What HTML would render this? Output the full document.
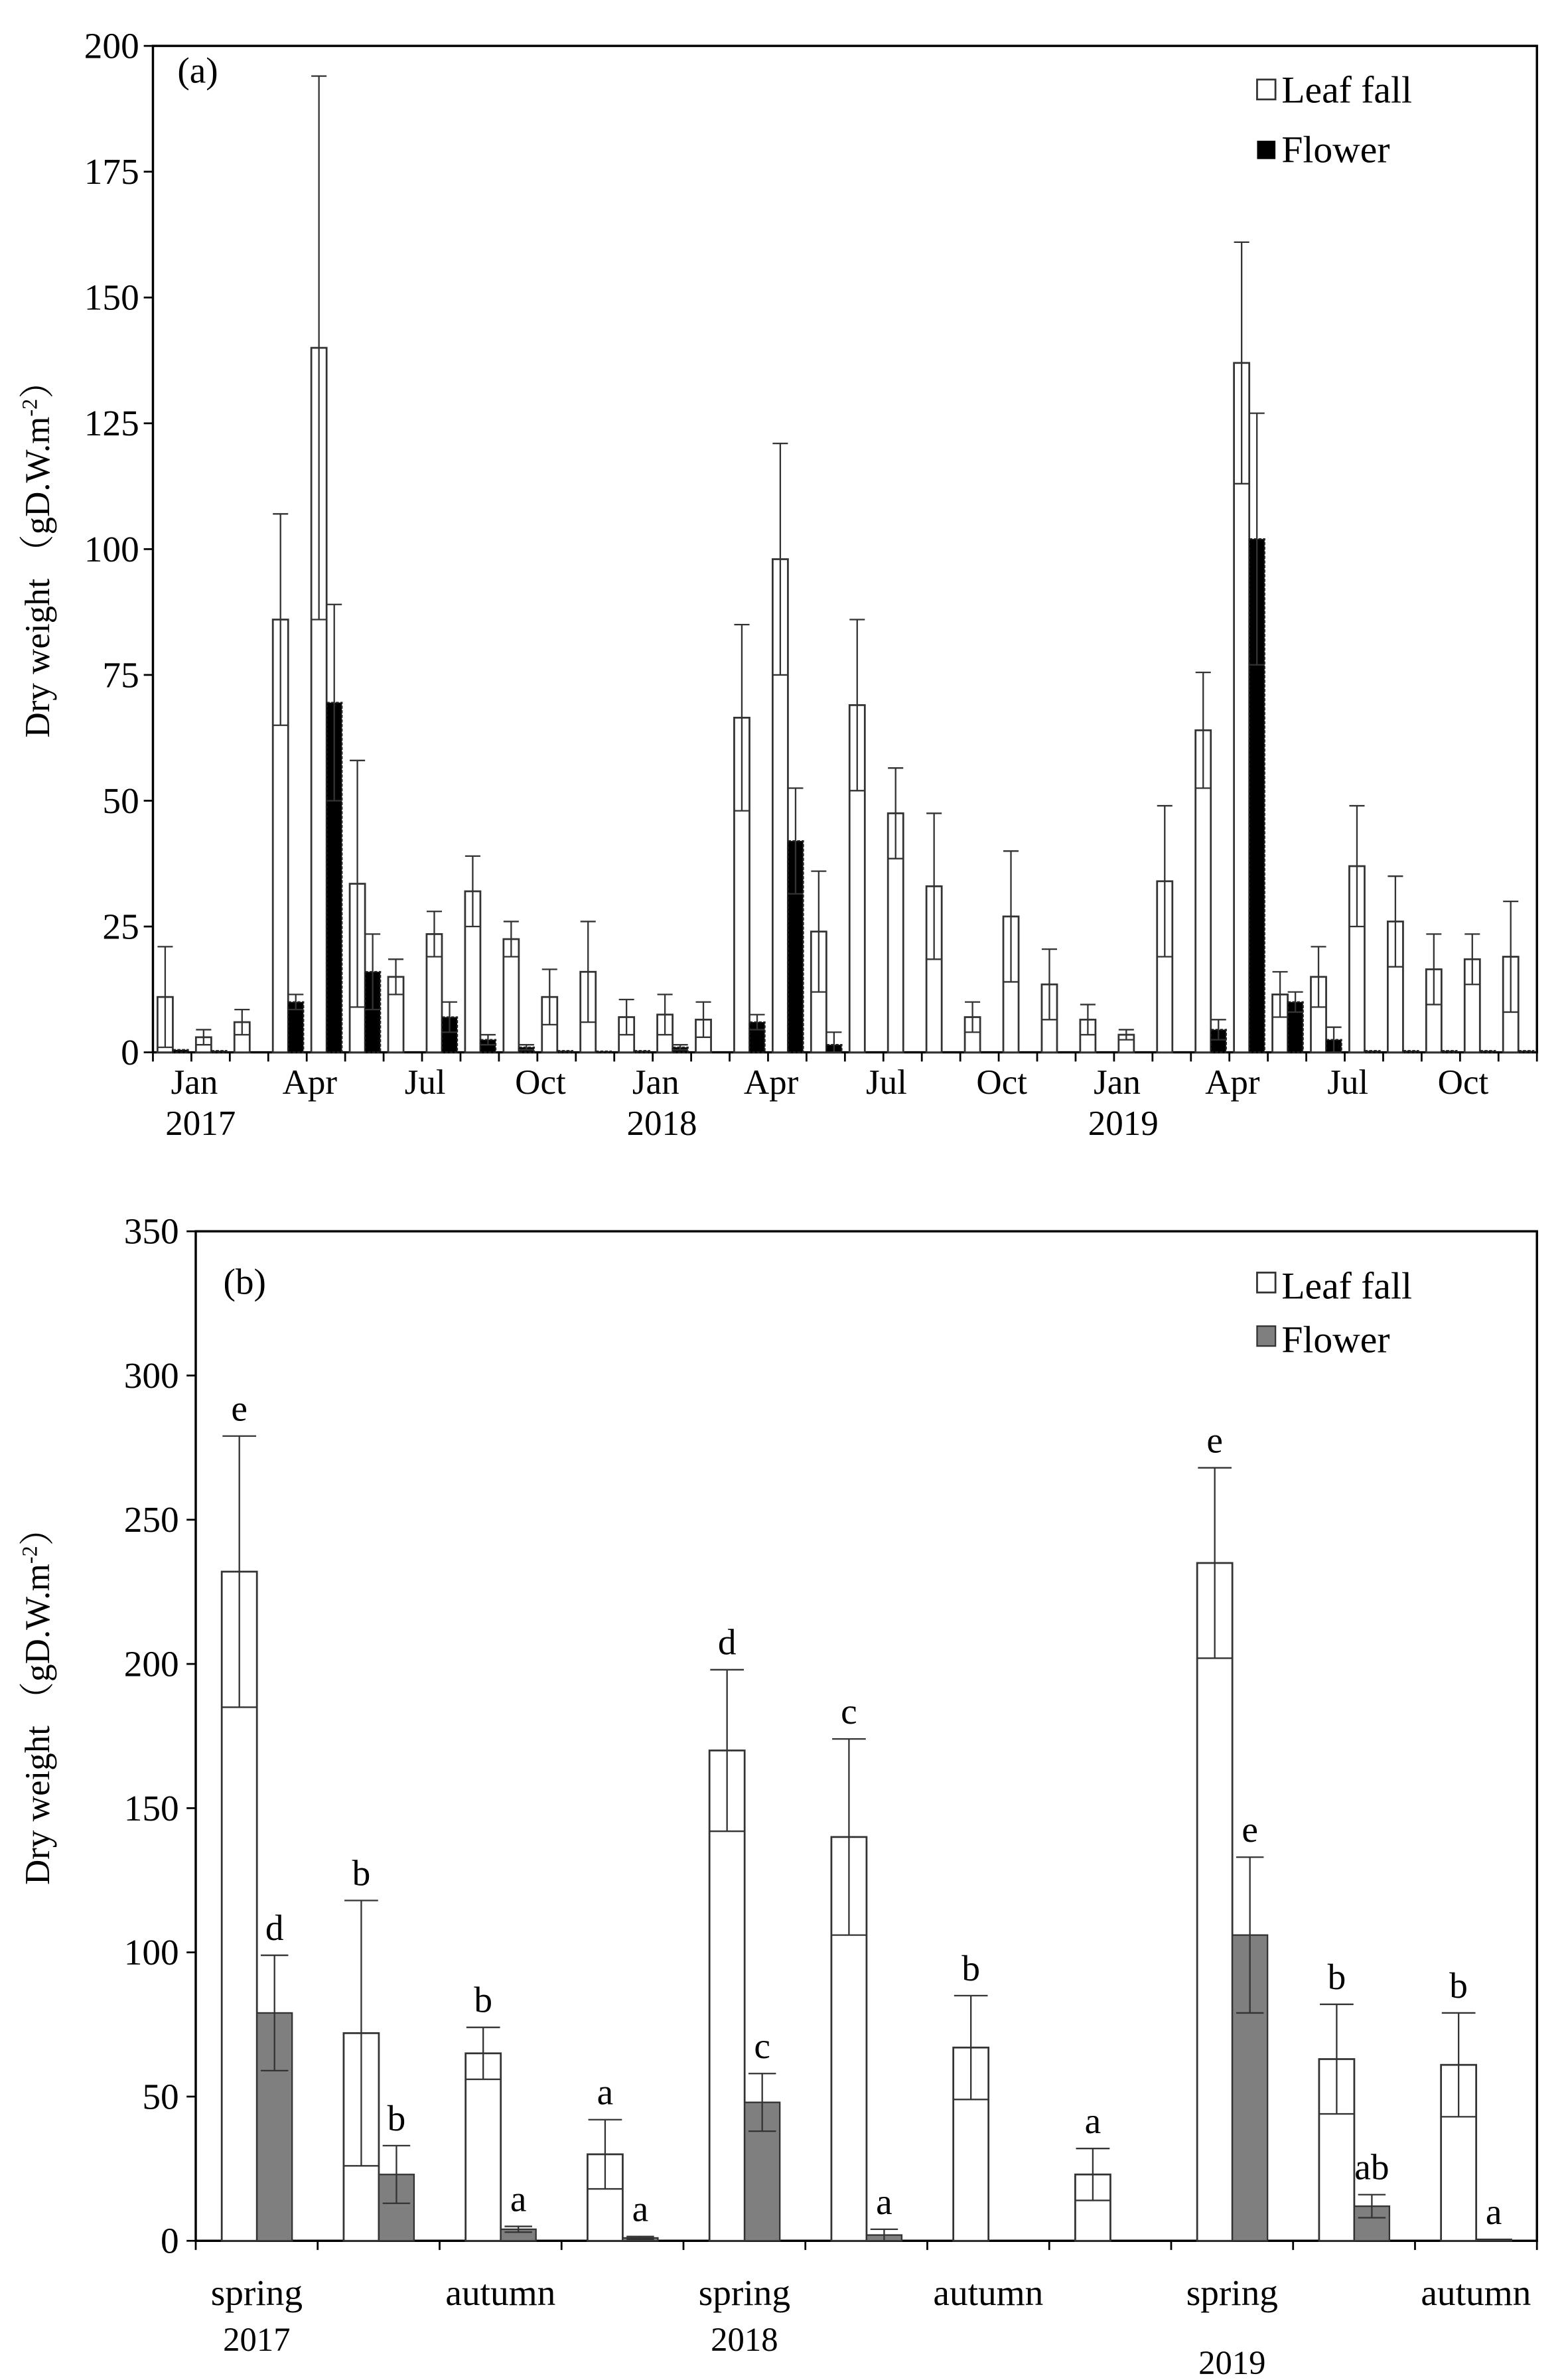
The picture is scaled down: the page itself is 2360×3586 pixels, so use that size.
<!DOCTYPE html>
<html><head><meta charset="utf-8"><style>
html,body{margin:0;padding:0;background:#fff}
svg{display:block}
text{font-family:"Liberation Serif","Noto Serif CJK SC",serif;fill:#000}
</style></head><body>
<svg id="fig" width="2360" height="3586" viewBox="0 0 1024 1556" preserveAspectRatio="none" xmlns="http://www.w3.org/2000/svg"></svg>
<script>
// Panel (a) data: monthly, Jan 2017 .. Dec 2019
const monthsA = ['Jan','Feb','Mar','Apr','May','Jun','Jul','Aug','Sep','Oct','Nov','Dec'];
const yearsA = ['2017','2018','2019'];
const leafA = [11,3,6,86,140,33.5,15,23.5,32,22.5,11,16, 7,7.5,6.5,66.5,98,24,69,47.5,33,7,27,13.5, 6.5,3.5,34,64,137,11.5,15,37,26,16.5,18.5,19];
const leafErrA = [10,1.5,2.5,21,54,24.5,3.5,4.5,7,3.5,5.5,10, 3.5,4,3.5,18.5,23,12,17,9,14.5,3,13,7, 3,1,15,11.5,24,4.5,6,12,9,7,5,11];
const flowerA = [0.5,0.3,0,10,69.5,16,0,7,2.5,1,0.3,0.2, 0.3,1,0,6,42,1.5,0,0,0,0,0,0, 0,0,0,4.5,102,10,2.5,0.3,0.3,0.3,0.3,0.3];
const flowerErrA = [0,0,0,1.5,19.5,7.5,0,3,1,0.5,0,0, 0,0.5,0,1.5,10.5,2.5,0,0,0,0,0,0, 0,0,0,2,25,2,2.5,0,0,0,0,0];
const yTicksA = [0,25,50,75,100,125,150,175,200];

// Panel (b) data: seasonal
const seasonsB = ['spring','summer','autumn','winter','spring','summer','autumn','winter','spring','summer','autumn'];
const seasonLabelsB = ['spring','','autumn','','spring','','autumn','','spring','','autumn'];
const leafB = [232,72,65,30,170,140,67,23,235,63,61];
const leafErrB = [47,46,9,12,28,34,18,9,33,19,18];
const flowerB = [79,23,4,1,48,2,0,0,106,12,0.5];
const flowerErrB = [20,10,1,0.5,10,2,0,0,27,4,0];
const leafLettersB = ['e','b','b','a','d','c','b','a','e','b','b'];
const flowerLettersB = ['d','b','a','a','c','a','','','e','ab','a'];
const yTicksB = [0,50,100,150,200,250,300,350];

const NS='http://www.w3.org/2000/svg';
const svg=document.getElementById('fig');
function mk(tag,attrs,parent){const e=document.createElementNS(NS,tag);for(const k in attrs)e.setAttribute(k,attrs[k]);(parent||svg).appendChild(e);return e;}
function txt(s,x,y,size,anchor,parent){const t=mk('text',{x:x,y:y,'font-size':size,'text-anchor':anchor||'middle'},parent);t.textContent=s;return t;}

function errBar(g,cx,v,e,ys,w){
  if(e<=0) return;
  const top=ys(v+e), low=ys(Math.max(0,v-e));
  const l=mk('path',{d:`M${cx} ${low}V${top}M${cx-w/2} ${top}H${cx+w/2}M${cx-w/2} ${low}H${cx+w/2}`,stroke:'#333',fill:'none','stroke-width':1},g);
  
  
}

// ---------- Panel A ----------
(function(){
  const L=100,R=1005,T=30,B=688,max=200;
  const ys=v=>B-(v/max)*(B-T);
  const n=leafA.length, sw=(R-L)/n;
  const g=mk('g',{});
  
  
  const box=mk('rect',{x:L,y:T,width:R-L,height:B-T,fill:'none',stroke:'#000','stroke-width':1.5},g);
  
  
  yTicksA.forEach(v=>{
    mk('line',{x1:L-6,x2:L,y1:ys(v),y2:ys(v),stroke:'#000','stroke-width':1.2},g);
    const t=txt(String(v),L-9,ys(v)+8,24,'end',g);
    
    
  });
  for(let i=0;i<=n;i++) mk('line',{x1:L+i*sw,x2:L+i*sw,y1:B,y2:B+6,stroke:'#000','stroke-width':1.2},g);
  for(let i=0;i<n;i++){
    const x0=L+i*sw;
    const lb=mk('rect',{x:x0+3,y:ys(leafA[i]),width:10,height:B-ys(leafA[i]),fill:'#fff',stroke:'#333','stroke-width':1.2},g);
    
    
    if(flowerA[i]>0){
      const fb=mk('rect',{x:x0+13,y:ys(flowerA[i]),width:10,height:B-ys(flowerA[i]),fill:'#000',stroke:'#222','stroke-width':1,'stroke-dasharray':'2 1'},g);
      
      
    }
    errBar(g,x0+8,leafA[i],leafErrA[i],ys,10);
    errBar(g,x0+18,flowerA[i],flowerErrA[i],ys,10);
    if(i%3===0){
      const t=txt(monthsA[i%12],L+(i+1)*sw+2,715,23,'middle',g);
      
      
    }
    if(i%12===0){
      const t=txt(yearsA[i/12],L+(i+1)*sw+6,742,23,'middle',g);
      
      
    }
  }
  const p=txt('(a)',116,54,24,'start',g);
  
  const s1=mk('rect',{x:822,y:52,width:12,height:13,fill:'#fff',stroke:'#333','stroke-width':1.2},g);
  
  const t1=txt('Leaf fall',838,67,25,'start',g);
  
  const s2=mk('rect',{x:822,y:92,width:12,height:12,fill:'#000'},g);
  
  const t2=txt('Flower',838,106,25,'start',g);
  
  const yt=mk('text',{x:0,y:0,'font-size':23,'text-anchor':'middle',transform:'translate(32,360) rotate(-90)'},g);
  
  yt.innerHTML='Dry weight （gD.W.m<tspan dy="-8" font-size="14">-2</tspan><tspan dy="8">）</tspan>';
})();

// ---------- Panel B ----------
(function(){
  const L=128,R=1005,T=805,B=1465,max=350;
  const ys=v=>B-(v/max)*(B-T);
  const n=leafB.length, gw=(R-L)/n;
  const g=mk('g',{});
  
  
  const box=mk('rect',{x:L,y:T,width:R-L,height:B-T,fill:'none',stroke:'#000','stroke-width':1.5},g);
  
  
  yTicksB.forEach(v=>{
    mk('line',{x1:L-6,x2:L,y1:ys(v),y2:ys(v),stroke:'#000','stroke-width':1.2},g);
    const t=txt(String(v),L-11,ys(v)+8,24,'end',g);
    
    
  });
  for(let i=0;i<=n;i++) mk('line',{x1:L+i*gw,x2:L+i*gw,y1:B,y2:B+6,stroke:'#000','stroke-width':1.2},g);
  const yrs=['2017','2018','2019'];
  for(let i=0;i<n;i++){
    const x0=L+i*gw;
    const lb=mk('rect',{x:x0+17,y:ys(leafB[i]),width:23,height:B-ys(leafB[i]),fill:'#fff',stroke:'#333','stroke-width':1.2},g);
    
    
    if(flowerB[i]>0){
      const fb=mk('rect',{x:x0+40,y:ys(flowerB[i]),width:23,height:B-ys(flowerB[i]),fill:'#7f7f7f',stroke:'#333','stroke-width':1},g);
      
      
    }
    errBar(g,x0+28.5,leafB[i],leafErrB[i],ys,22);
    errBar(g,x0+51.5,flowerB[i],flowerErrB[i],ys,18);
    const la=txt(leafLettersB[i],x0+28.5,ys(leafB[i]+leafErrB[i])-10,24,'middle',g);
    
    if(flowerLettersB[i]){
      const fa=txt(flowerLettersB[i],x0+51.5,ys(flowerB[i]+flowerErrB[i])-10,24,'middle',g);
      
    }
    if(seasonLabelsB[i]){
      const t=txt(seasonLabelsB[i],x0+gw/2,1507,24,'middle',g);
      
    }
    if(i%4===0){
      const yi=i/4;
      const t=txt(yrs[yi],x0+gw/2,yi===2?1552:1537,22,'middle',g);
      
    }
  }
  const p=txt('(b)',146,846,24,'start',g);
  
  const s1=mk('rect',{x:822,y:832,width:12,height:13,fill:'#fff',stroke:'#333','stroke-width':1.2},g);
  
  const t1=txt('Leaf fall',838,849,25,'start',g);
  
  const s2=mk('rect',{x:822,y:867,width:12,height:13,fill:'#7f7f7f',stroke:'#333','stroke-width':1},g);
  
  const t2=txt('Flower',838,884,25,'start',g);
  
  const yt=mk('text',{x:0,y:0,'font-size':23,'text-anchor':'middle',transform:'translate(32,1110) rotate(-90)'},g);
  
  yt.innerHTML='Dry weight （gD.W.m<tspan dy="-8" font-size="14">-2</tspan><tspan dy="8">）</tspan>';
})();
</script>
</body></html>
